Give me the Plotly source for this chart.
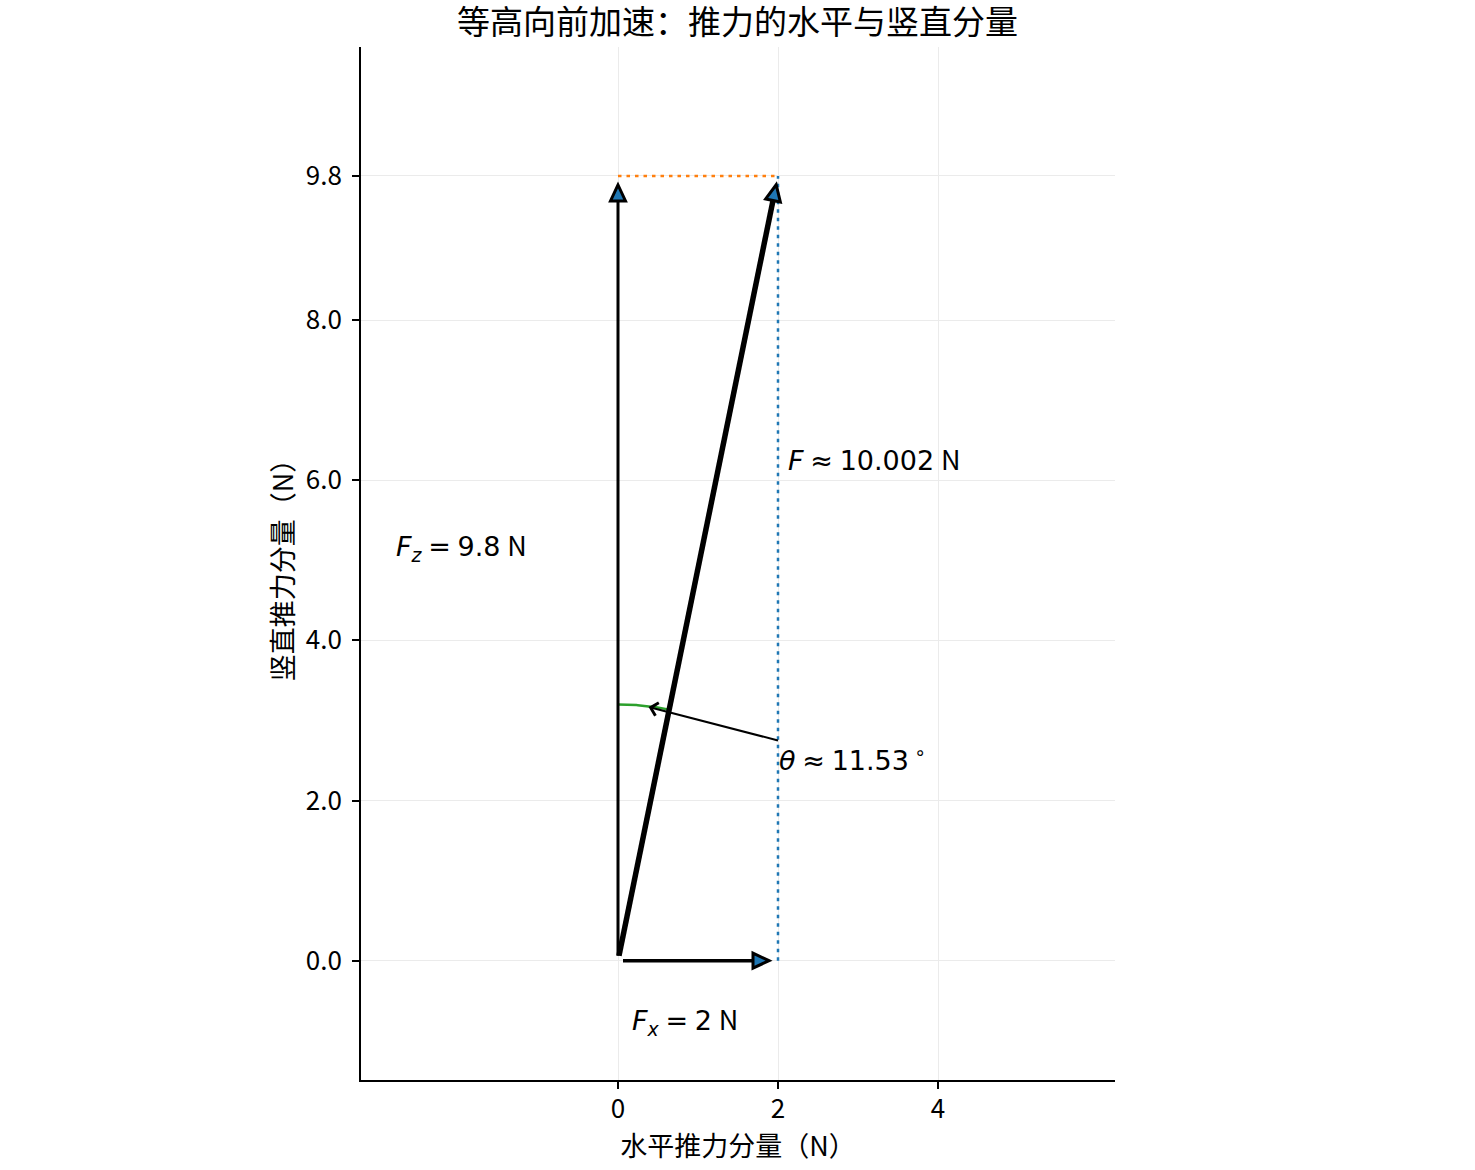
import numpy as np
import plotly.graph_objects as go

# force components (N)
fx = 2.0
fz = 9.8
f_total = float(np.hypot(fx, fz))
theta_deg = float(np.degrees(np.arctan2(fx, fz)))

x_ticks = [0, 2, 4]
y_ticks = [0.0, 2.0, 4.0, 6.0, 8.0, 9.8]
y_tick_labels = [f'{v:.1f}' for v in y_ticks]

arc_radius = 3.2

FONT = "Noto Sans CJK SC"
MATH = "DejaVu Sans"
BLUE = '#1f77b4'
ORANGE = '#ff7f0e'
GREEN = '#2ca02c'
PX_PER_UNIT = 80.0  # equal aspect: pixels per data unit on both axes
SP = '\u2005'
THIN = '\u2009'
UNIT_N = f"<span style=\"font-family:'{FONT}'\">N</span>"


def arrow(start, end, width, head_len=16, head_half=7.5, shrink_a=5, shrink_b=9):
    """Line trace plus a filled triangular head (as a shape) like matplotlib '-|>'."""
    start = np.array(start, dtype=float)
    end = np.array(end, dtype=float)
    d = (end - start) / np.linalg.norm(end - start)
    n = np.array([-d[1], d[0]])
    p0 = start + d * shrink_a / PX_PER_UNIT
    tip = end - d * shrink_b / PX_PER_UNIT
    base = tip - d * head_len / PX_PER_UNIT
    left = base + n * head_half / PX_PER_UNIT
    right = base - n * head_half / PX_PER_UNIT
    trace = go.Scatter(x=[p0[0], base[0]], y=[p0[1], base[1]], mode='lines',
                       line=dict(color='black', width=width),
                       hoverinfo='skip', showlegend=False)
    path = f'M{tip[0]},{tip[1]} L{left[0]},{left[1]} L{right[0]},{right[1]} Z'
    head = dict(type='path', path=path, xref='x', yref='y', fillcolor=BLUE,
                line=dict(color='black', width=3), layer='above')
    return trace, head


fig = go.Figure()

# dotted guides
fig.add_trace(go.Scatter(x=[0, fx], y=[fz, fz], mode='lines',
                         line=dict(color=ORANGE, width=2.5, dash='3.5px,5px'),
                         hoverinfo='skip', showlegend=False))
fig.add_trace(go.Scatter(x=[fx, fx], y=[0, fz], mode='lines',
                         line=dict(color=BLUE, width=2.5, dash='3.5px,5px'),
                         hoverinfo='skip', showlegend=False))

# angle arc between vertical and thrust
ang = np.radians(np.linspace(90, 90 - theta_deg, 40))
fig.add_trace(go.Scatter(x=arc_radius * np.cos(ang), y=arc_radius * np.sin(ang), mode='lines',
                         line=dict(color=GREEN, width=2.5),
                         hoverinfo='skip', showlegend=False))

shapes = []
for start, end, lw in [((0, 0), (0, fz), 3), ((0, 0), (fx, 0), 3.5), ((0, 0), (fx, fz), 5.5)]:
    tr, hd = arrow(start, end, lw)
    fig.add_trace(tr)
    shapes.append(hd)

mid = np.radians(90 - theta_deg / 2)
txt_font = dict(family=MATH, size=27, color='black')
annotations = [
    dict(x=-2.8, y=fz / 2, xref='x', yref='y', xanchor='left', yanchor='bottom',
         text=f'<i>F</i><sub><i>z</i></sub>{SP}={SP}{fz:g}{SP}{UNIT_N}', showarrow=False,
         font=txt_font),
    dict(x=fx + 0.1, y=6.0, xref='x', yref='y', xanchor='left', yanchor='bottom',
         text=f'<i>F</i>{SP}≈{SP}{f_total:.3f}{SP}{UNIT_N}', showarrow=False, font=txt_font),
    dict(x=0.15, y=-0.45, xref='x', yref='y', xanchor='left', yanchor='top',
         text=f'<i>F</i><sub><i>x</i></sub>{SP}={SP}{fx:g}{SP}{UNIT_N}', showarrow=False,
         font=txt_font),
    dict(x=arc_radius * np.cos(mid), y=arc_radius * np.sin(mid), xref='x', yref='y',
         ax=fx, ay=2.75, axref='x', ayref='y', xanchor='left', yanchor='top',
         text=f'<i>θ</i>{SP}≈{SP}{theta_deg:.2f}{THIN}<sup>∘</sup>', showarrow=True,
         arrowhead=4, arrowsize=1.3, arrowwidth=2, arrowcolor='black', standoff=5,
         borderpad=0, font=txt_font),
]

axis_common = dict(showline=True, linecolor='black', linewidth=1.8, ticks='outside',
                   ticklen=7, tickwidth=1.8, tickcolor='black', gridcolor='#ebebeb',
                   gridwidth=1.2, zeroline=False,
                   tickfont=dict(family=FONT, size=26, color='black'))

fig.update_layout(
    width=1475, height=1170,
    margin=dict(l=361, r=360, t=47, b=90),
    paper_bgcolor='white', plot_bgcolor='white',
    font=dict(family=FONT, color='black'),
    title=dict(text='等高向前加速：推力的水平与竖直分量', x=0.5, xanchor='center',
               y=1 - 22 / 1170, yanchor='middle', font=dict(family=FONT, size=33, color='black')),
    xaxis=dict(range=[-3.2125, 6.2125], tickvals=x_ticks, ticklabelstandoff=-2,
               title=dict(text='水平推力分量（N）', standoff=4, font=dict(family=FONT, size=27)),
               **axis_common),
    yaxis=dict(range=[-1.49, 11.41], tickvals=y_ticks, ticktext=y_tick_labels,
               ticklabelstandoff=5,
               title=dict(text='竖直推力分量（N）', standoff=4, font=dict(family=FONT, size=27)),
               **axis_common),
    annotations=annotations,
    shapes=shapes,
)

fig.write_html("out.html", config={'displayModeBar': False},
               post_script="document.body.style.margin='0';")
